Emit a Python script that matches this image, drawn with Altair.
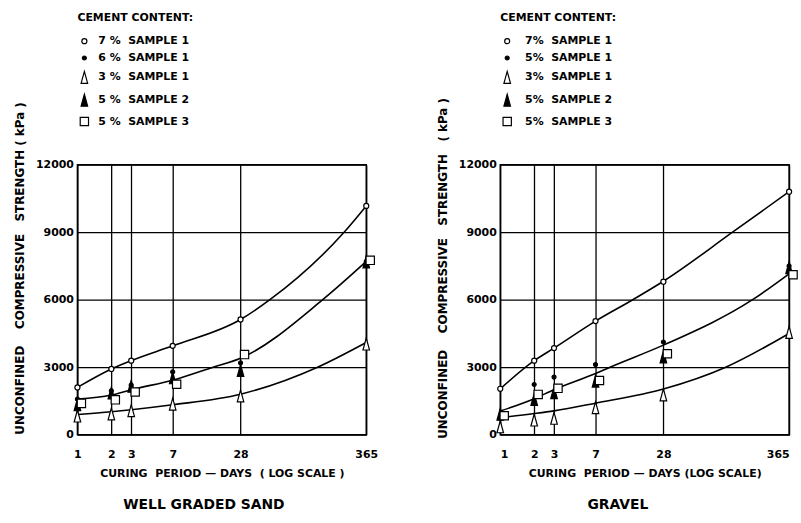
import altair as alt
import pandas as pd

FONT = "DejaVu Sans"
NB = "\u00a0"

# ---------------- data ----------------
days = [1, 2, 3, 7, 28, 365]

# Well graded sand: measured points
sand_series = [f"7 %{NB}{NB}SAMPLE 1", f"6 %{NB}{NB}SAMPLE 1", f"3 %{NB}{NB}SAMPLE 1",
               f"5 %{NB}{NB}SAMPLE 2", f"5 %{NB}{NB}SAMPLE 3"]
sand_7_s1 = [2100, 2920, 3290, 3950, 5120, 10170]
sand_5_s1 = [1580, 1950, 2200, 2790, 3190, 7700]
sand_3_s1 = [830, 920, 1070, 1360, 1720, 4030]
sand_5_s2 = [1330, 1850, 2150, 2530, 2850, 7680]
sand_5_s3 = [1390, 1550, 1900, 2240, 3560, 7750]

# Gravel: measured points
gravel_series = [f"7%{NB}{NB}SAMPLE 1", f"5%{NB}{NB}SAMPLE 1", f"3%{NB}{NB}SAMPLE 1",
                 f"5%{NB}{NB}SAMPLE 2", f"5%{NB}{NB}SAMPLE 3"]
gravel_7_s1 = [2040, 3290, 3850, 5050, 6800, 10800]
gravel_5_s1 = [None, 2230, 2560, 3115, 4120, 7500]
gravel_3_s1 = [350, 650, 730, 1200, 1770, 4550]
gravel_5_s2 = [910, 1570, 1870, 2380, 3460, 7420]
gravel_5_s3 = [840, 1790, 2060, 2410, 3600, 7110]

# fitted curves
sand_upper_days = [1, 2, 3, 7, 28, 51, 232, 365]
sand_upper_vals = [2100, 2920, 3290, 3950, 5120, 6000, 9000, 10170]
sand_mid_days = [1, 2, 3, 7, 16, 28, 150, 365]
sand_mid_vals = [1580, 1760, 2000, 2420, 3000, 3400, 6000, 7700]
sand_low_days = [1, 2, 3, 7, 28, 135, 365]
sand_low_vals = [900, 1020, 1110, 1330, 1800, 3000, 4100]

gravel_upper_days = [1, 2, 3, 7, 15, 28, 115, 365]
gravel_upper_vals = [2040, 3290, 3850, 5050, 6000, 6820, 9000, 10800]
gravel_mid_days = [1, 2, 3, 7, 9.4, 28, 173, 365]
gravel_mid_vals = [1050, 1600, 2000, 2720, 3000, 3980, 6000, 7150]
gravel_low_days = [1, 2, 3, 7, 28, 100, 365]
gravel_low_vals = [760, 940, 1060, 1400, 2030, 3000, 4500]

y_ticks = [0, 3000, 6000, 9000, 12000]

# ---------------- styling ----------------
TRI = "M0,-1L0.55,1L-0.55,1Z"
shape_range = ["circle", "circle", TRI, TRI, "square"]
fill_range = ["white", "black", "white", "black", "white"]
stroke_range = ["black"] * 5
size_range = [26, 16, 144, 144, 70]


def points_table(series, values):
    rows = []
    for name, vals in zip(series, values):
        for d, v in zip(days, vals):
            if v is not None:
                rows.append({"day": d, "strength": v, "series": name})
    return pd.DataFrame(rows)


def curves_table(curves):
    rows = []
    for cid, (ds, vs) in enumerate(curves):
        for d, v in zip(ds, vs):
            rows.append({"day": d, "strength": v, "curve": cid})
    return pd.DataFrame(rows)


def panel(pts, crv, series, title, ytitle, xtitle, title_dx, label_offset, flush):
    xscale = alt.Scale(type="log", domain=[1, 365], nice=False)
    yscale = alt.Scale(domain=[0, 12000], nice=False)
    xaxis = alt.Axis(values=days, format="d", grid=True, gridColor="black", gridWidth=1.3,
                     gridOpacity=1, ticks=False, domain=False, labelFont=FONT,
                     labelFontSize=11, labelFontWeight="bold", labelColor="black",
                     labelPadding=14, labelFlush=flush, title=xtitle, titleFont=FONT,
                     titleFontSize=11, titleFontWeight="bold", titleColor="black",
                     titlePadding=8)
    yaxis = alt.Axis(values=y_ticks, grid=True, gridColor="black", gridWidth=1.3,
                     gridOpacity=1, ticks=False, domain=False, labelFont=FONT,
                     labelFontSize=11, labelFontWeight="bold", labelColor="black",
                     labelPadding=4, format="d", title=ytitle, titleFont=FONT,
                     titleFontSize=12, titleFontWeight="bold", titleColor="black",
                     titlePadding=9, titleY=104)
    legend = alt.Legend(orient="none", legendX=0, legendY=-154, title="CEMENT CONTENT:",
                        titleFont=FONT, titleFontSize=11, titleFontWeight="bold",
                        titleColor="black", titlePadding=13, labelFont=FONT,
                        labelFontSize=11, labelFontWeight="bold", labelColor="black",
                        labelOffset=label_offset, rowPadding=5,
                        symbolStrokeColor="black", symbolStrokeWidth=1.2)

    lines = alt.Chart(crv).mark_line(color="black", strokeWidth=1.6,
                                     interpolate="monotone").encode(
        x=alt.X("day:Q", scale=xscale, axis=xaxis),
        y=alt.Y("strength:Q", scale=yscale, axis=yaxis),
        detail="curve:N",
    )
    base_pts = alt.Chart(pts).transform_filter(alt.datum.series != series[4])
    sq_pts = alt.Chart(pts).transform_filter(alt.datum.series == series[4])

    enc = dict(
        x=alt.X("day:Q", scale=xscale),
        y=alt.Y("strength:Q", scale=yscale),
        shape=alt.Shape("series:N", scale=alt.Scale(domain=series, range=shape_range),
                        legend=legend),
        fill=alt.Fill("series:N", scale=alt.Scale(domain=series, range=fill_range),
                      legend=legend),
        stroke=alt.Stroke("series:N", scale=alt.Scale(domain=series, range=stroke_range),
                          legend=legend),
        size=alt.Size("series:N", scale=alt.Scale(type="ordinal", domain=series,
                                                  range=size_range),
                      legend=legend),
    )
    p1 = base_pts.mark_point(filled=True, strokeWidth=1.2, opacity=1).encode(**enc)
    p2 = sq_pts.mark_point(filled=True, strokeWidth=1.2, opacity=1,
                           xOffset=4).encode(**enc)
    return alt.layer(lines, p1, p2).properties(
        width=291, height=272,
        title=alt.TitleParams(title, orient="bottom", font=FONT, fontSize=14,
                              fontWeight="bold", color="black", offset=20,
                              dx=title_dx),
    )


sand_pts = points_table(sand_series, [sand_7_s1, sand_5_s1, sand_3_s1, sand_5_s2, sand_5_s3])
gravel_pts = points_table(gravel_series,
                          [gravel_7_s1, gravel_5_s1, gravel_3_s1, gravel_5_s2, gravel_5_s3])
sand_crv = curves_table([(sand_upper_days, sand_upper_vals), (sand_mid_days, sand_mid_vals),
                         (sand_low_days, sand_low_vals)])
gravel_crv = curves_table([(gravel_upper_days, gravel_upper_vals),
                           (gravel_mid_days, gravel_mid_vals),
                           (gravel_low_days, gravel_low_vals)])

ytitle_l = NB.join(["UNCONFINED", "", "", "", "COMPRESSIVE", "", "", "STRENGTH", "(", "kPa", ")"])
ytitle_r = NB.join(["UNCONFINED", "", "", "", "COMPRESSIVE", "", "", "STRENGTH", "", "", "(", "kPa", ")"])
xtitle_l = NB.join(["CURING", "", "PERIOD", "\u2014", "DAYS", "", "(", "LOG", "SCALE", ")"])
xtitle_r = NB.join(["CURING", "", "PERIOD", "\u2014", "DAYS", "(LOG", "SCALE)"])

left = panel(sand_pts, sand_crv, sand_series, "WELL GRADED SAND", ytitle_l, xtitle_l,
             -18, 7, False)
right = panel(gravel_pts, gravel_crv, gravel_series, "GRAVEL", ytitle_r, xtitle_r,
              -27, 11, True)

chart = alt.hconcat(left, right, spacing=56).resolve_scale(
    shape="independent", fill="independent", size="independent", stroke="independent"
).resolve_legend(
    shape="independent", fill="independent", size="independent", stroke="independent"
).properties(
    padding={"left": 12, "top": 9, "right": 0, "bottom": 5},
    background="white",
).configure_view(stroke="black", strokeWidth=1.5)

chart.save("out.html", embed_options={"renderer": "svg", "actions": False})
